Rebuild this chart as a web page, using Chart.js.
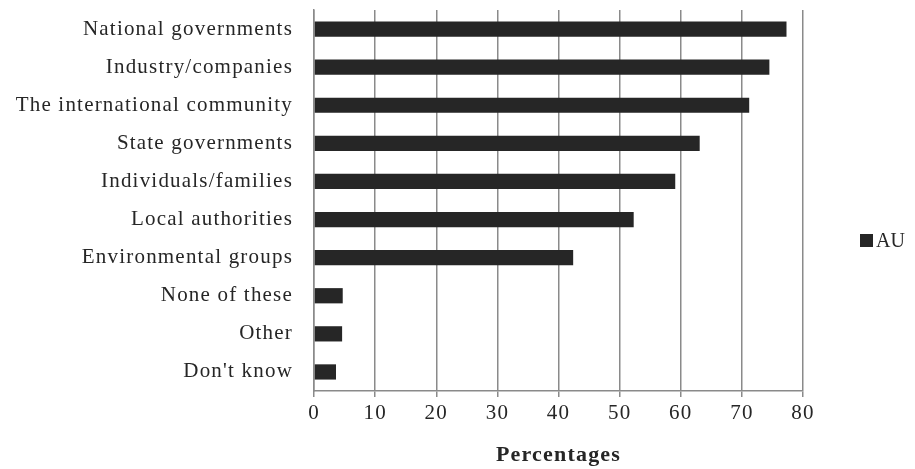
<!DOCTYPE html>
<html>
<head>
<meta charset="utf-8">
<script src="https://cdn.jsdelivr.net/npm/chart.js@4/dist/chart.umd.min.js"></script>
<style>
  html, body { margin: 0; padding: 0; background: #fff; }
  #wrap { position: relative; width: 915px; height: 469px; }
  #legend {
    position: absolute; left: 860px; top: 229px;
    font-family: "Liberation Serif", "Times New Roman", serif;
    font-size: 20px; color: #262626;
    display: flex; align-items: center;
  }
  #legend .box { width: 13px; height: 13px; background: #262626; margin-right: 3px; }
</style>
</head>
<body>
<div id="wrap">
  <canvas id="chart" width="915" height="469"></canvas>
  <div id="legend"></div>
</div>
<script>
// --- data ---
const categories = [
  "National governments",
  "Industry/companies",
  "The international community",
  "State governments",
  "Individuals/families",
  "Local authorities",
  "Environmental groups",
  "None of these",
  "Other",
  "Don't know",
];
const auValues = [77.3, 74.5, 71.2, 63.1, 59.1, 52.3, 42.4, 4.7, 4.6, 3.6];
const xTicks = [0, 10, 20, 30, 40, 50, 60, 70, 80];
const seriesLabel = "AU";

const FONT = "'Liberation Serif', 'Times New Roman', serif";
const INK = "#262626";
const GRID = "#8a8a8a";

// the source typesetting is a little looser than plain Times
const spacing = {
  id: "spacing",
  beforeLayout: (c) => { c.ctx.letterSpacing = "1.2px"; },
  beforeDraw: (c) => { c.ctx.letterSpacing = "1.2px"; },
};

const chart = new Chart(document.getElementById("chart"), {
  type: "bar",
  data: {
    labels: categories,
    datasets: [
      {
        label: seriesLabel,
        data: auValues,
        backgroundColor: INK,
        borderWidth: 0,
        categoryPercentage: 1,
        barPercentage: 0.4,
      },
    ],
  },
  options: {
    indexAxis: "y",
    responsive: false,
    animation: false,
    layout: { padding: { top: 10, right: 112, bottom: 0, left: 0 } },
    plugins: {
      legend: { display: false }, // drawn as html next to the plot
      tooltip: { enabled: false },
    },
    scales: {
      x: {
        min: 0,
        max: 80,
        afterBuildTicks: (scale) => {
          scale.ticks = xTicks.map((v) => ({ value: v }));
        },
        afterFit: (scale) => {
          scale.height = 78;
        },
        ticks: { color: INK, font: { family: FONT, size: 21 }, padding: 4, maxRotation: 0 },
        grid: { color: GRID, lineWidth: 1.5, tickLength: 6, drawTicks: true },
        border: { color: GRID, width: 1.5 },
        title: {
          display: true,
          text: "Percentages",
          color: INK,
          font: { family: FONT, size: 22, weight: "bold" },
          padding: { top: 4, bottom: 0 },
        },
      },
      y: {
        afterFit: (scale) => {
          scale.width = 314;
          scale.paddingTop = 0;
          scale.paddingBottom = 0;
        },
        ticks: { color: INK, font: { family: FONT, size: 21 }, padding: 21 },
        grid: { display: false, drawTicks: false },
        border: { color: GRID, width: 1.5 },
      },
    },
  },
  plugins: [spacing],
});

// --- legend ---
const legendEl = document.getElementById("legend");
chart.data.datasets.forEach((ds) => {
  const box = document.createElement("span");
  box.className = "box";
  box.style.background = ds.backgroundColor;
  const txt = document.createElement("span");
  txt.textContent = ds.label;
  legendEl.appendChild(box);
  legendEl.appendChild(txt);
});
</script>
</body>
</html>
